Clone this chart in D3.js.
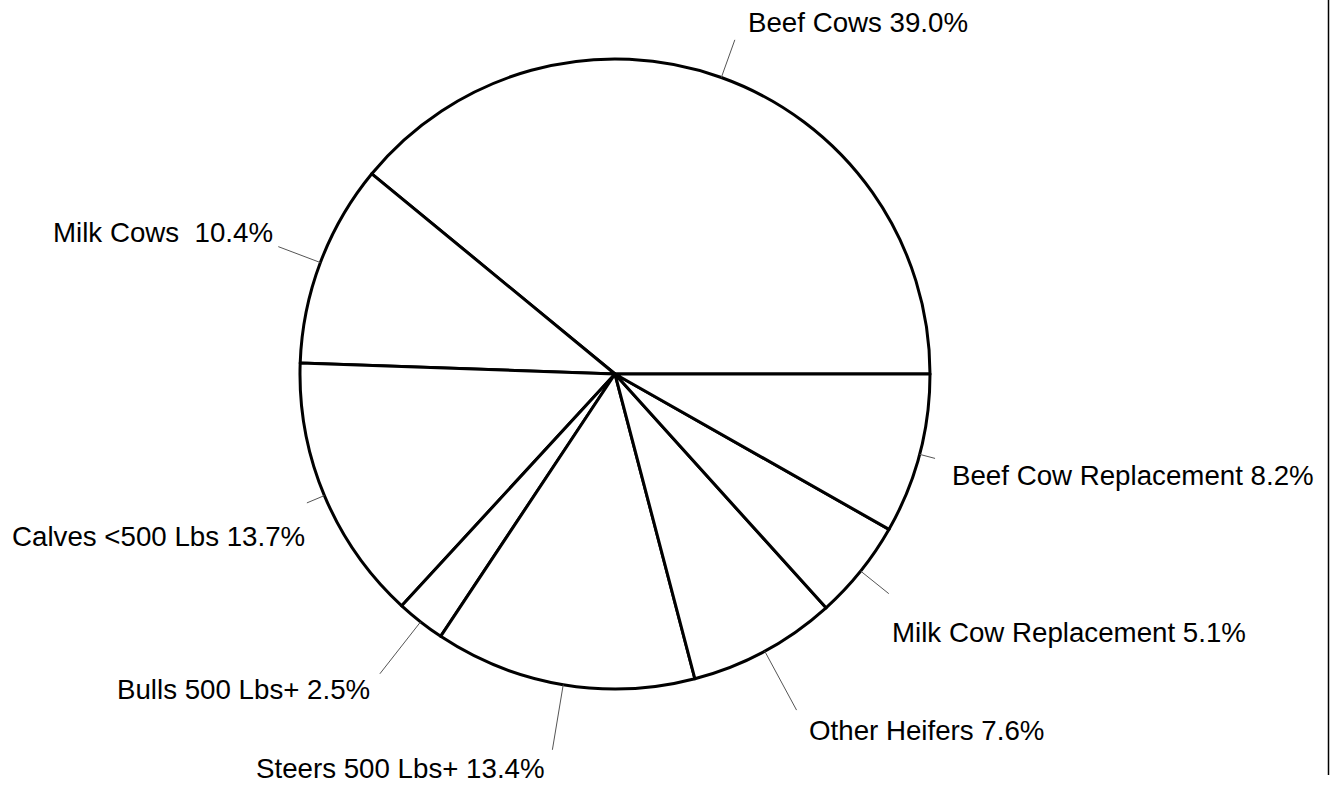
<!DOCTYPE html>
<html>
<head>
<meta charset="utf-8">
<script src="https://cdn.jsdelivr.net/npm/d3@7"></script>
<style>
  html, body { margin: 0; padding: 0; background: #fff; }
  svg { display: block; }
  text { font-family: "Liberation Sans", Arial, sans-serif; white-space: pre; }
</style>
</head>
<body>
<script>
// ---- data ----
const categories = [
  "Beef Cows", "Milk Cows", "Calves <500 Lbs", "Bulls 500 Lbs+",
  "Steers 500 Lbs+", "Other Heifers", "Milk Cow Replacement", "Beef Cow Replacement"
];
const percents = [39.0, 10.4, 13.7, 2.5, 13.4, 7.6, 5.1, 8.2];
const labelTexts = [
  "Beef Cows 39.0%", "Milk Cows  10.4%", "Calves <500 Lbs 13.7%", "Bulls 500 Lbs+ 2.5%",
  "Steers 500 Lbs+ 13.4%", "Other Heifers 7.6%", "Milk Cow Replacement 5.1%", "Beef Cow Replacement 8.2%"
];

// ---- layout (not data) ----
const W = 1336, H = 785;
const cx = 615, cy = 374, R = 315;
const leaderOuter = [355, 360, 334, 381, 381, 382, 351, 331];
const labelPos = [
  [748, 32], [53, 242], [12, 546], [117, 699],
  [256, 778], [809, 740], [892, 642], [952, 485]
];

const svg = d3.select("body").append("svg").attr("width", W).attr("height", H);

// right border line
svg.append("line").attr("x1", 1328.5).attr("x2", 1328.5).attr("y1", 0).attr("y2", 775)
  .attr("stroke", "#000").attr("stroke-width", 1.5);

const pie = d3.pie().sort(null)
  .startAngle(Math.PI / 2).endAngle(Math.PI / 2 - 2 * Math.PI);
const arcs = pie(percents);
const arc = d3.arc().innerRadius(0).outerRadius(R);

const g = svg.append("g").attr("transform", `translate(${cx},${cy})`);
g.selectAll("path.slice").data(arcs).join("path")
  .attr("class", "slice")
  .attr("d", arc)
  .attr("fill", "#fff")
  .attr("stroke", "#000")
  .attr("stroke-width", 3)
  .attr("stroke-linejoin", "round");

// leader lines
function polar(a, r) { return [r * Math.sin(a), -r * Math.cos(a)]; }
g.selectAll("line.leader").data(arcs).join("line")
  .attr("class", "leader")
  .each(function (d, i) {
    const mid = (d.startAngle + d.endAngle) / 2;
    const p0 = polar(mid, R), p1 = polar(mid, leaderOuter[i]);
    d3.select(this).attr("x1", p0[0]).attr("y1", p0[1]).attr("x2", p1[0]).attr("y2", p1[1]);
  })
  .attr("stroke", "#555")
  .attr("stroke-width", 1);

svg.selectAll("text.lbl").data(arcs).join("text")
  .attr("class", "lbl")
  .attr("x", (d, i) => labelPos[i][0])
  .attr("y", (d, i) => labelPos[i][1])
  .attr("font-size", 27.7)
  .attr("fill", "#000")
  .text((d, i) => labelTexts[i]);
</script>
</body>
</html>
